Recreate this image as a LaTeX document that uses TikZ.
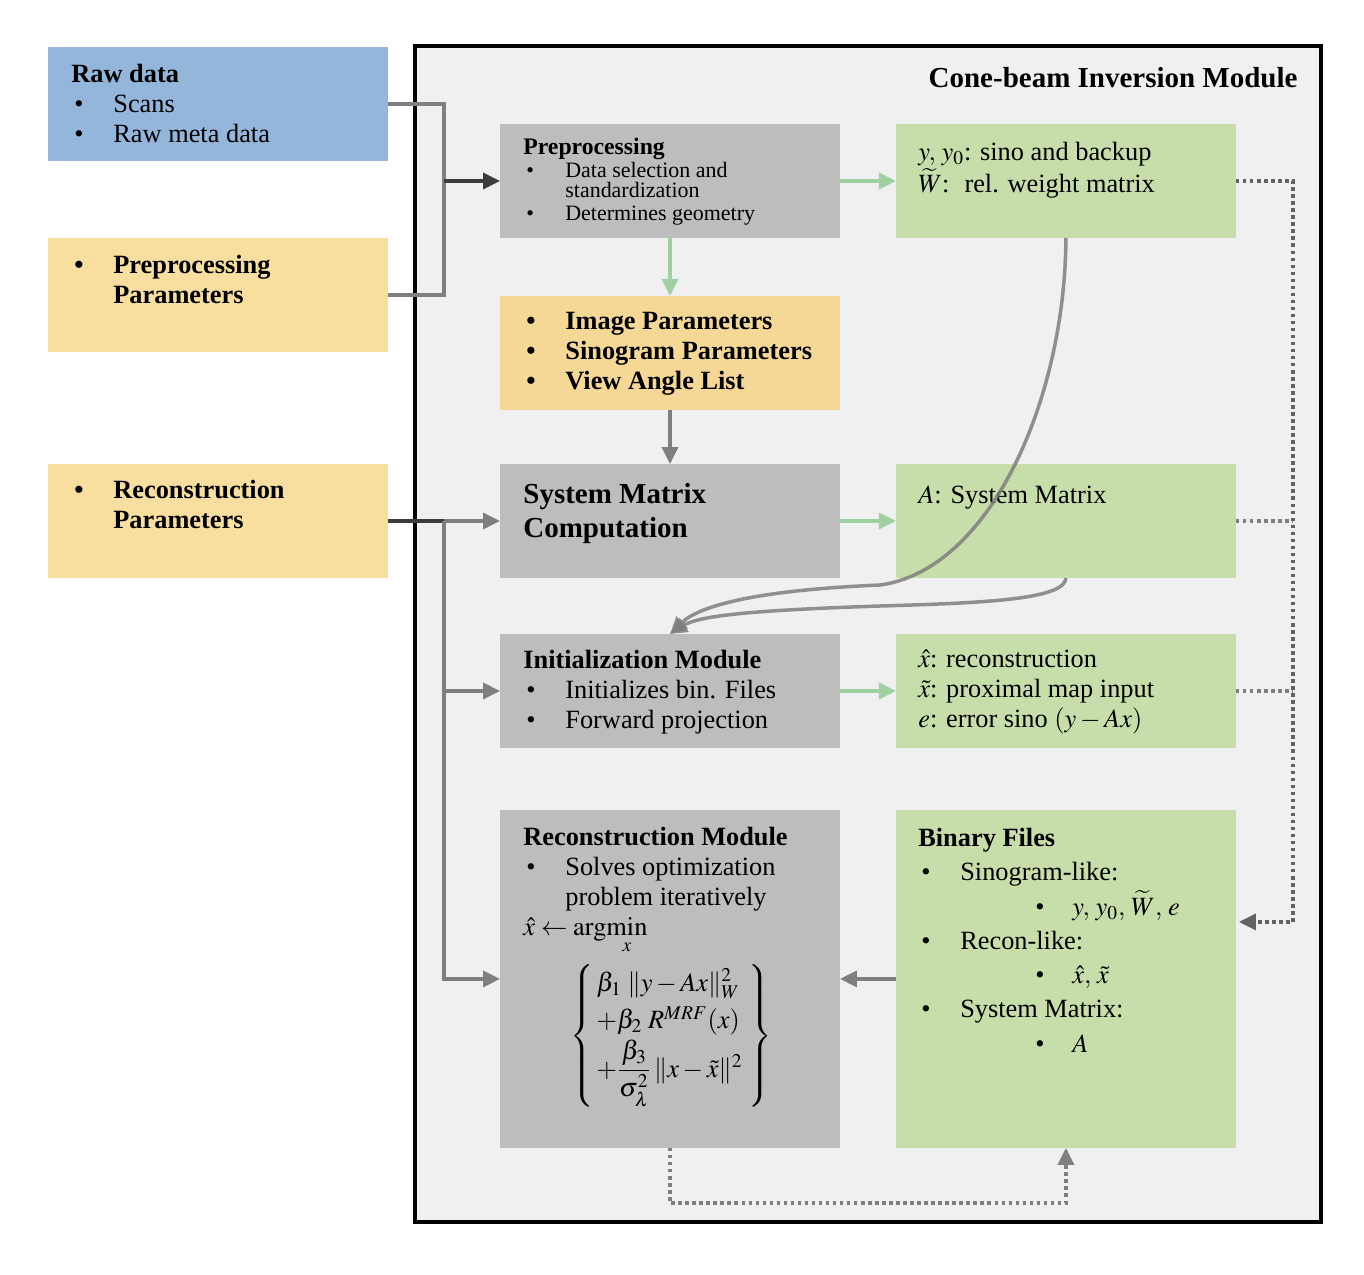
\documentclass[tikz,border=0pt]{standalone}
\usepackage{amsmath}
\usepackage{mathptmx}
\usepackage{fontspec}
\setmainfont{Liberation Serif}
\usetikzlibrary{positioning, arrows.meta}

\definecolor{rawblue}{HTML}{95B6DB}
\definecolor{paryellow}{HTML}{F9DF9F}
\definecolor{imgyellow}{HTML}{F5D896}
\definecolor{modgray}{HTML}{BDBDBD}
\definecolor{filegreen}{HTML}{C8DEAA}
\definecolor{modbg}{HTML}{F0F0F0}
\definecolor{flowgreen}{HTML}{9ED0A2}
\definecolor{flowgray}{HTML}{7F7F7F}
\definecolor{flowdark}{HTML}{3C3C3C}

\newcommand{\bl}{\makebox[0.84cm][l]{\hspace{0.06cm}\textbullet}}
\newcommand{\ind}{\hspace*{0.84cm}}
\newcommand{\sbl}{\hspace*{2.34cm}\makebox[0.74cm][l]{\textbullet}}

\tikzset{
  box/.style={minimum width=6.8cm, minimum height=2.28cm, inner sep=0pt, outer sep=0pt},
  inbox/.style={box, fill=rawblue},
  parbox/.style={box, fill=paryellow},
  modbox/.style={box, fill=modgray},
  filebox/.style={box, fill=filegreen},
  txt/.style={inner sep=0pt, anchor=north west, align=left, font=\fontsize{15}{17}\selectfont},
  boldtxt/.style={txt, font=\fontsize{15}{17}\selectfont\bfseries},
  smalltxt/.style={txt, font=\fontsize{12.5}{11.5}\selectfont},
  tip/.style={-{Triangle[length=0.34cm, width=0.32cm]}},
  gline/.style={line width=2pt, flowgray},
  dline/.style={line width=2pt, flowdark},
  garrow/.style={gline, tip},
  darrow/.style={dline, tip},
  grarrow/.style={line width=2pt, flowgreen, tip},
  dots/.style={line width=2pt, flowgray, dash pattern=on 2pt off 2pt},
  curve/.style={line width=2pt, flowgray, draw opacity=0.85, tip}
}

\begin{document}
\begin{tikzpicture}[x=0.02cm, y=-0.02cm]
  \useasboundingbox (0,0) rectangle (1364,1274);

  % inputs outside the module
  \node[inbox] (raw) at (218,104) {};
  \node[txt, below right=0.34cm and 0.46cm of raw.north west] (raw-t)
    {\textbf{Raw data}\\ \bl Scans\\ \bl Raw meta data};
  \node[parbox] (ppar) at (218,295) {};
  \node[boldtxt, below right=0.34cm and 0.46cm of ppar.north west] (ppar-t)
    {\bl Preprocessing\\ \ind Parameters};
  \node[parbox] (rpar) at (218,521) {};
  \node[boldtxt, below right=0.32cm and 0.46cm of rpar.north west] (rpar-t)
    {\bl Reconstruction\\ \ind Parameters};

  % module frame
  \node[draw, line width=2.2pt, fill=modbg, minimum width=18.12cm, minimum height=23.52cm,
    inner sep=0pt] (cbim) at (868,634) {};
  \node[anchor=base east, inner sep=0pt, font=\fontsize{16.5}{19}\selectfont\bfseries]
    (cbim-title) at ([shift={(-0.5cm,-0.86cm)}]cbim.north east) {Cone-beam Inversion Module};

  % processing column
  \node[modbox] (pre) at (670,181) {};
  \node[smalltxt, below right=0.28cm and 0.46cm of pre.north west] (pre-t)
    {{\fontsize{13.5}{11.5}\selectfont\bfseries Preprocessing}\\
     \bl Data selection and\\ \ind standardization\\[2pt]
     \bl Determines geometry};
  \node[box, fill=imgyellow, below=1.16cm of pre] (imgp) {};
  \node[boldtxt, below right=0.32cm and 0.46cm of imgp.north west] (imgp-t)
    {\bl Image Parameters\\ \bl Sinogram Parameters\\ \bl View Angle List};
  \node[modbox] (smc) at (670,521) {};
  \node[txt, font=\fontsize{16.5}{19.3}\selectfont\bfseries,
    below right=0.38cm and 0.46cm of smc.north west] (smc-t) {System Matrix\\ Computation};
  \node[modbox, below=1.12cm of smc] (init) {};
  \node[txt, below right=0.32cm and 0.46cm of init.north west] (init-t)
    {\textbf{Initialization Module}\\ \bl Initializes bin. Files\\ \bl Forward projection};
  \node[modbox, minimum height=6.76cm, below=1.24cm of init] (rec) {};
  \node[txt, below right=0.34cm and 0.46cm of rec.north west] (rec-t)
    {\textbf{Reconstruction Module}\\ \bl Solves optimization\\ \ind problem iteratively\\
     $\hat{x}\leftarrow\mathrm{arg}\!\mathop{\mathrm{min}}\limits_{x}$};
  \node[inner sep=0pt, font=\fontsize{15}{17}\selectfont] (rec-eq) at (671,1036)
    {\renewcommand{\arraystretch}{1.25}%
     $\left\{\begin{array}{@{\,}l@{\;}}
      \beta_1\;\|y-Ax\|_W^2\\
      +\beta_2\;R^{MRF}(x)\\
      +\dfrac{\beta_3}{\sigma_\lambda^2}\,\|x-\tilde{x}\|^2
     \end{array}\right\}$};

  % data column
  \node[filebox, right=1.12cm of pre] (ybox) {};
  \node[txt, below right=0.36cm and 0.44cm of ybox.north west] (ybox-t)
    {$y,\, y_0$: sino and backup\\ $\widetilde{W}$:\hspace{0.3cm}rel. weight matrix};
  \node[filebox, right=1.12cm of smc] (abox) {};
  \node[txt, below right=0.42cm and 0.44cm of abox.north west] (abox-t)
    {$A$: System Matrix};
  \node[filebox, right=1.12cm of init] (xbox) {};
  \node[txt, below right=0.32cm and 0.44cm of xbox.north west] (xbox-t)
    {$\hat{x}$: reconstruction\\ $\tilde{x}$: proximal map input\\ $e$: error sino $(y-Ax)$};
  \node[filebox, minimum height=6.76cm, right=1.12cm of rec] (bin) {};
  \node[txt, font=\fontsize{15}{19.5}\selectfont,
    below right=0.36cm and 0.44cm of bin.north west] (bin-t)
    {\textbf{Binary Files}\\ \bl Sinogram-like:\\ \sbl $y,\, y_0,\, \widetilde{W},\, e$\\
     \bl Recon-like:\\ \sbl $\hat{x},\, \tilde{x}$\\ \bl System Matrix:\\ \sbl $A$};

  % inputs into the module
  \coordinate[left=1.12cm of pre.west] (jp);
  \draw[gline] (raw.east) -| (jp) |- (ppar.east);
  \draw[darrow] (jp) -- (pre.west);
  \coordinate[left=1.12cm of smc.west] (jr);
  \draw[dline] (rpar.east) -- (jr);
  \draw[garrow] (jr) -- (smc.west);
  \draw[garrow] (jr) |- (init.west);
  \draw[garrow] (jr) |- (rec.west);

  % flow inside the module
  \draw[grarrow] (pre.east) -- (ybox.west);
  \draw[grarrow] (pre.south) -- (imgp.north);
  \draw[garrow] (imgp.south) -- (smc.north);
  \draw[grarrow] (smc.east) -- (abox.west);
  \draw[grarrow] (init.east) -- (xbox.west);
  \draw[garrow] (bin.west) -- (rec.east);
  \draw[curve] (ybox.south) .. controls (1065,400) and (990,570) .. (880,585)
    .. controls (760,590) and (700,605) .. (init.north);
  \draw[curve] (abox.south) .. controls (1065,600) and (980,603) .. (880,606)
    .. controls (760,610) and (700,615) .. (init.north);

  % writes to the binary files
  \coordinate[right=1.14cm of ybox.east] (bus);
  \coordinate[above right=1.14cm and 0.06cm of bin.east] (bin-in);
  \draw[dots] (abox.east) -- (abox.east -| bus);
  \draw[dots] (xbox.east) -- (xbox.east -| bus);
  \draw[dots, flowdark!80, tip] (ybox.east) -| (bin-in -| bus) -- (bin-in);
  \draw[dots, tip] (rec.south) -- ++(0,55) -| (bin.south);
\end{tikzpicture}
\end{document}
